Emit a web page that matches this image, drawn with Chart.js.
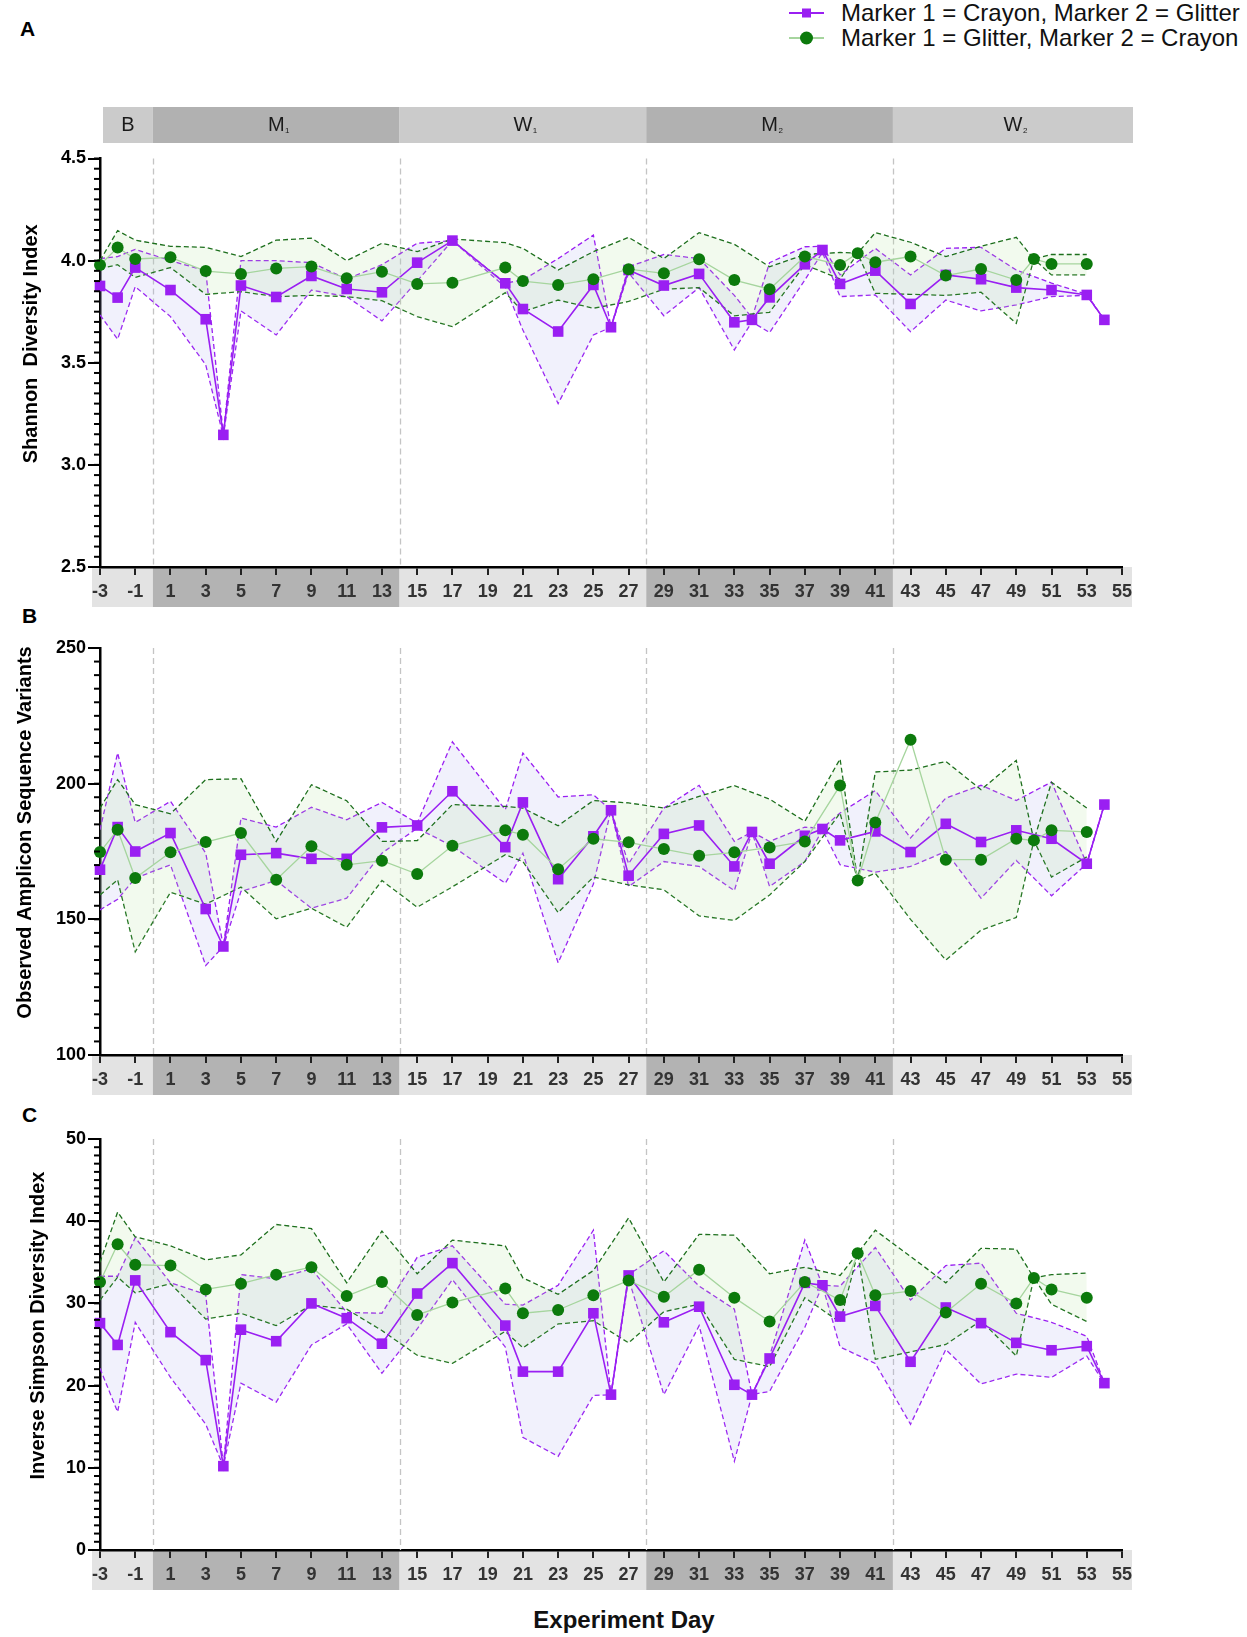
<!DOCTYPE html>
<html>
<head>
<meta charset="utf-8">
<script src="https://cdn.jsdelivr.net/npm/chart.js@4.4.0/dist/chart.umd.min.js"></script>
<style>
  body { margin: 0; background: #fff; width: 1247px; height: 1637px; position: relative; overflow: hidden;
         font-family: "Liberation Sans", Arial, sans-serif; }
  canvas { position: absolute; left: 0; }
  .panel { position: absolute; font-weight: bold; font-size: 21px; line-height: 21px; color: #000; }
  .leg { position: absolute; left: 841px; font-size: 24px; line-height: 26px; color: #111; white-space: nowrap; }
  .sym { position: absolute; left: 788px; }
  .xlab { position: absolute; left: 424px; width: 400px; text-align: center; top: 1606px;
          font-weight: bold; font-size: 24px; line-height: 28px; color: #111; }
</style>
</head>
<body>
<div class="panel" style="left:20px;top:18px">A</div>
<div class="panel" style="left:22px;top:605px">B</div>
<div class="panel" style="left:22px;top:1104px">C</div>

<svg class="sym" style="top:2px" width="38" height="22"><line x1="1" y1="11" x2="36" y2="11" stroke="#9a1ff2" stroke-width="1.8"/><rect x="14" y="6.5" width="9" height="9" fill="#9a1ff2"/></svg>
<div class="leg" style="top:0px">Marker 1 = Crayon, Marker 2 = Glitter</div>
<svg class="sym" style="top:27px" width="38" height="22"><line x1="1" y1="11" x2="36" y2="11" stroke="#a6d59e" stroke-width="1.8"/><circle cx="18.5" cy="11" r="6.5" fill="#0c7a0c"/></svg>
<div class="leg" style="top:25px">Marker 1 = Glitter, Marker 2 = Crayon</div>

<canvas id="cA" width="1247" height="520" style="top:95px"></canvas>
<canvas id="cB" width="1247" height="500" style="top:600px"></canvas>
<canvas id="cC" width="1247" height="510" style="top:1090px"></canvas>
<div class="xlab">Experiment Day</div>

<script>
// sampling days
const purpleDays = [-3, -2, -1, 1, 3, 4, 5, 7, 9, 11, 13, 15, 17, 20, 21, 23, 25, 26, 27, 29, 31, 33, 34, 35, 37, 38, 39, 41, 43, 45, 47, 49, 51, 53, 54];
const greenDays = [-3, -2, -1, 1, 3, 5, 7, 9, 11, 13, 15, 17, 20, 21, 23, 25, 27, 29, 31, 33, 35, 37, 39, 40, 41, 43, 45, 47, 49, 50, 51, 53];
const xTicks = [-3, -1, 1, 3, 5, 7, 9, 11, 13, 15, 17, 19, 21, 23, 25, 27, 29, 31, 33, 35, 37, 39, 41, 43, 45, 47, 49, 51, 53, 55];

// study phases
const phaseNames = ['B', 'M', 'W', 'M', 'W'];
const phaseSubs = ['', '1', '1', '2', '2'];
const phaseStart = [-3, 0, 14, 28, 42];
const phaseEnd = [0, 14, 28, 42, 55];
const phaseDark = [false, true, false, true, false];

// A: Shannon
const shannonPurple = [3.876, 3.819, 3.966, 3.856, 3.713, 3.147, 3.878, 3.822, 3.925, 3.861, 3.845, 3.99, 4.098, 3.889, 3.763, 3.653, 3.881, 3.674, 3.954, 3.878, 3.935, 3.698, 3.71, 3.82, 3.982, 4.052, 3.886, 3.951, 3.788, 3.93, 3.909, 3.868, 3.856, 3.832, 3.71];
const shannonPurpleHi = [4.01, 4.02, 4.055, 4.0, 3.95, 3.15, 4.0, 4.0, 3.99, 3.91, 3.98, 4.085, 4.098, 3.89, 3.905, 4.01, 4.125, 3.674, 3.97, 4.03, 4.01, 3.83, 3.72, 3.99, 4.068, 4.07, 3.93, 4.06, 3.93, 4.06, 4.065, 3.954, 3.89, 3.835, 3.71];
const shannonPurpleLo = [3.734, 3.615, 3.873, 3.726, 3.49, 3.14, 3.754, 3.636, 3.856, 3.824, 3.705, 3.90, 4.098, 3.87, 3.66, 3.30, 3.636, 3.674, 3.94, 3.73, 3.868, 3.563, 3.70, 3.648, 3.905, 4.04, 3.824, 3.832, 3.652, 3.807, 3.754, 3.783, 3.824, 3.83, 3.71];
const shannonGreen = [3.979, 4.064, 4.008, 4.016, 3.949, 3.935, 3.962, 3.971, 3.914, 3.946, 3.886, 3.892, 3.966, 3.90, 3.881, 3.909, 3.958, 3.938, 4.007, 3.905, 3.86, 4.02, 3.979, 4.036, 3.992, 4.02, 3.927, 3.959, 3.905, 4.008, 3.984, 3.984];
const shannonGreenHi = [4.0, 4.147, 4.10, 4.07, 4.065, 4.02, 4.10, 4.11, 4.0, 4.085, 4.044, 4.106, 4.088, 4.06, 3.954, 4.044, 4.114, 4.01, 4.137, 4.08, 3.97, 4.03, 4.04, 4.036, 4.137, 4.09, 4.02, 4.07, 4.114, 4.008, 4.03, 4.03];
const shannonGreenLo = [3.96, 3.98, 3.918, 3.966, 3.835, 3.848, 3.824, 3.83, 3.824, 3.804, 3.726, 3.677, 3.843, 3.75, 3.807, 3.767, 3.80, 3.86, 3.868, 3.73, 3.747, 3.98, 3.91, 4.036, 3.84, 3.835, 3.83, 3.845, 3.693, 4.008, 3.93, 3.93];

// B: observed ASVs
const asvPurple = [168.3, 184.0, 175.0, 181.8, 153.8, 140, 173.8, 174.4, 172.3, 172.3, 183.9, 184.6, 197.2, 176.6, 193.1, 164.8, 180.6, 190.2, 166.1, 181.5, 184.6, 169.5, 182.2, 170.5, 180.8, 183.3, 179.1, 182.4, 174.8, 185.2, 178.5, 182.8, 179.7, 170.5, 192.3];
const asvPurpleHi = [183, 211.3, 185.7, 193.5, 174.4, 140, 187.3, 184, 191.3, 186.7, 193.1, 185.5, 215.4, 190.4, 211.3, 195.1, 195.9, 190.2, 170.5, 191, 199.4, 178.7, 182.2, 178.7, 184, 183.5, 189.2, 197.5, 180, 194.7, 199.4, 193.8, 200.6, 170.5, 192.3];
const asvPurpleLo = [153.5, 157.4, 165.2, 170.1, 133, 140, 160.3, 164.3, 154.1, 157.8, 174.4, 183.6, 177, 163.3, 174.4, 134, 163, 190.2, 162.1, 171.3, 169.5, 160.6, 182.2, 162.1, 171.3, 183, 170.1, 167.4, 169.5, 175, 157.8, 171.7, 158.7, 170.5, 192.3];
const asvGreen = [174.8, 183.0, 165.2, 174.7, 178.5, 181.8, 164.6, 176.9, 170.1, 171.6, 166.7, 177.1, 182.8, 181.2, 168.5, 179.7, 178.4, 175.9, 173.4, 174.7, 176.5, 178.7, 199.3, 164.3, 185.7, 216.2, 172, 172, 179.7, 179.1, 182.8, 182.2];
const asvGreenHi = [191, 201.5, 192.3, 188.9, 201.5, 201.8, 178.7, 199.6, 193.7, 178.7, 179, 192.3, 191.6, 191, 184.5, 193.8, 192.9, 191, 195.3, 199.3, 194.3, 186.1, 209.1, 164.3, 204.3, 205, 208.2, 197.8, 208.6, 179.1, 200.5, 191];
const asvGreenLo = [159, 164.6, 138, 160, 155.6, 161.9, 150.2, 154.1, 147.1, 164.3, 154.5, 162, 173.8, 171.3, 152.5, 165.6, 162.7, 160.9, 151.3, 149.6, 159, 171.3, 189.2, 164.3, 167, 150, 135, 146, 150.7, 179.1, 165.6, 173];

// C: inverse Simpson
const simpsonPurple = [27.6, 24.95, 32.8, 26.5, 23.1, 10.2, 26.8, 25.4, 30.0, 28.2, 25.1, 31.2, 34.9, 27.3, 21.7, 21.7, 28.8, 18.9, 33.4, 27.7, 29.6, 20.1, 18.9, 23.3, 32.5, 32.2, 28.4, 29.7, 22.9, 29.5, 27.6, 25.2, 24.3, 24.8, 20.3];
const simpsonPurpleHi = [33.3, 33.3, 38.0, 32.5, 31.1, 10.2, 33.5, 33.0, 34.2, 28.9, 28.8, 35.6, 37.0, 29.9, 29.8, 32.2, 38.9, 18.9, 33.5, 36.4, 32.1, 29.3, 18.9, 23.6, 37.7, 32.2, 32.1, 36.8, 30.4, 34.6, 34.9, 28.8, 27.7, 26.0, 20.3];
const simpsonPurpleLo = [22.1, 16.8, 27.7, 21.0, 15.3, 10.2, 20.3, 18.0, 24.95, 27.5, 21.5, 26.9, 32.9, 24.7, 13.7, 11.4, 18.8, 18.9, 33.0, 18.9, 27.3, 10.8, 18.9, 19.3, 27.1, 32.2, 24.7, 22.7, 15.3, 24.4, 20.2, 21.4, 21.0, 23.6, 20.3];
const simpsonGreen = [32.6, 37.2, 34.7, 34.6, 31.7, 32.4, 33.5, 34.4, 30.9, 32.6, 28.6, 30.1, 31.8, 28.8, 29.2, 31.0, 32.8, 30.8, 34.1, 30.7, 27.8, 32.6, 30.4, 36.1, 31.0, 31.5, 28.9, 32.4, 30.0, 33.1, 31.7, 30.7];
const simpsonGreenHi = [35.0, 41.1, 38.1, 37.0, 35.3, 35.9, 39.6, 39.1, 32.5, 38.8, 33.6, 37.7, 37.0, 33.1, 31.1, 34.0, 40.4, 32.6, 38.4, 38.3, 33.6, 34.4, 33.4, 36.1, 38.9, 35.7, 32.5, 36.7, 36.6, 33.1, 33.5, 33.7];
const simpsonGreenLo = [30.4, 33.2, 31.3, 32.4, 28.1, 28.8, 27.3, 29.8, 29.3, 26.7, 23.7, 22.7, 26.6, 24.6, 27.5, 27.9, 25.2, 29.0, 29.9, 23.2, 22.3, 30.7, 27.7, 36.1, 23.2, 24.1, 25.0, 27.9, 23.6, 33.1, 29.9, 27.8];

const FONT = '"Liberation Sans", Arial, sans-serif';
const PURPLE = '#9a1ff2';
const GREEN_DOT = '#0c7a0c';
const GREEN_LINE = '#a6d59e';
const GREEN_DASH = '#1d6f1d';
Chart.defaults.font.family = FONT;

function pts(days, vals) {
  return days.map((d, i) => ({x: d, y: vals[i]}));
}

// band under the x axis, phase bar, dashed phase lines, minor ticks, y title
const decor = {
  id: 'decor',
  beforeDraw(chart, args, o) {
    const {ctx, chartArea: a} = chart;
    const x = chart.scales.x;
    ctx.save();
    for (let i = 0; i < phaseNames.length; i++) {
      let x0 = x.getPixelForValue(phaseStart[i]);
      let x1 = x.getPixelForValue(phaseEnd[i]);
      if (i === 0) x0 -= 8;
      if (i === phaseNames.length - 1) x1 += 10;
      ctx.fillStyle = phaseDark[i] ? '#b3b3b3' : '#e3e3e3';
      ctx.fillRect(x0, a.bottom, x1 - x0, 40);
    }
    if (o.phaseBar) {
      const top = 12, h = 36;
      for (let i = 0; i < phaseNames.length; i++) {
        let x0 = x.getPixelForValue(phaseStart[i]);
        let x1 = x.getPixelForValue(phaseEnd[i]);
        if (i === 0) x0 += 3;
        if (i === phaseNames.length - 1) x1 += 11;
        ctx.fillStyle = phaseDark[i] ? '#b1b1b1' : '#cbcbcb';
        ctx.fillRect(x0, top, x1 - x0, h);
        const cx = (x0 + x1) / 2, cy = top + h / 2;
        ctx.fillStyle = '#1a1a1a';
        ctx.font = '20px ' + FONT;
        ctx.textAlign = 'center';
        ctx.textBaseline = 'middle';
        ctx.fillText(phaseNames[i], cx, cy);
        if (phaseSubs[i]) {
          const w = ctx.measureText(phaseNames[i]).width;
          ctx.font = '8px ' + FONT;
          ctx.textAlign = 'left';
          ctx.fillText(phaseSubs[i], cx + w / 2 + 0.5, cy + 6);
        }
      }
    }
    ctx.restore();
  },
  beforeDatasetsDraw(chart) {
    const {ctx, chartArea: a} = chart;
    const x = chart.scales.x;
    ctx.save();
    ctx.strokeStyle = '#c4c4c4';
    ctx.lineWidth = 1.3;
    ctx.setLineDash([6, 4]);
    for (let i = 1; i < phaseStart.length; i++) {
      const px = Math.round(x.getPixelForValue(phaseStart[i])) + 0.5;
      ctx.beginPath();
      ctx.moveTo(px, a.top);
      ctx.lineTo(px, a.bottom);
      ctx.stroke();
    }
    ctx.restore();
  },
  afterDraw(chart, args, o) {
    const {ctx, chartArea: a} = chart;
    const y = chart.scales.y;
    ctx.save();
    ctx.strokeStyle = '#000';
    ctx.lineWidth = 2;
    const n = Math.round((y.max - y.min) / o.minor);
    for (let i = 0; i <= n; i++) {
      const py = y.getPixelForValue(y.min + i * o.minor);
      ctx.beginPath();
      ctx.moveTo(a.left - 6, py);
      ctx.lineTo(a.left, py);
      ctx.stroke();
    }
    ctx.translate(o.titleX, (a.top + a.bottom) / 2 - 19);
    ctx.rotate(-Math.PI / 2);
    ctx.fillStyle = '#000';
    ctx.font = 'bold 20px ' + FONT;
    ctx.textAlign = 'center';
    ctx.textBaseline = 'middle';
    ctx.fillText(o.title, 0, 0);
    ctx.restore();
  }
};

function makePanel(id, p) {
  const dash = {borderWidth: 1.3, borderDash: [5, 3], pointRadius: 0, tension: 0};
  const datasets = [
    {...dash, data: pts(purpleDays, p.pHi), borderColor: PURPLE, fill: '+1', backgroundColor: 'rgba(170,170,235,0.17)', order: 3},
    {...dash, data: pts(purpleDays, p.pLo), borderColor: PURPLE, fill: false, order: 3},
    {...dash, data: pts(greenDays, p.gHi), borderColor: GREEN_DASH, fill: '+1', backgroundColor: 'rgba(175,225,150,0.16)', order: 2},
    {...dash, data: pts(greenDays, p.gLo), borderColor: GREEN_DASH, fill: false, order: 2},
    {data: pts(purpleDays, p.pMean), borderColor: PURPLE, borderWidth: 1.6, pointStyle: 'rect', pointRadius: 7.5,
     pointBackgroundColor: PURPLE, pointBorderWidth: 0, fill: false, order: 1, clip: false},
    {data: pts(greenDays, p.gMean), borderColor: GREEN_LINE, borderWidth: 1.3, pointStyle: 'circle', pointRadius: 6,
     pointBackgroundColor: GREEN_DOT, pointBorderColor: GREEN_DOT, pointBorderWidth: 0, fill: false, order: 0, clip: false}
  ];
  new Chart(document.getElementById(id), {
    type: 'line',
    data: {datasets},
    options: {
      responsive: false,
      animation: false,
      events: [],
      layout: {padding: {top: p.padTop, right: 125, left: 0, bottom: 0}},
      plugins: {
        legend: {display: false},
        tooltip: {enabled: false},
        decor: {phaseBar: p.phaseBar, minor: p.minor, title: p.title, titleX: p.titleX}
      },
      scales: {
        x: {
          type: 'linear', min: -3, max: 55,
          afterBuildTicks: s => { s.ticks = xTicks.map(v => ({value: v})); },
          afterFit: s => { s.height = p.xH; },
          grid: {drawOnChartArea: false, drawTicks: true, tickLength: 8, color: '#222', lineWidth: 2},
          border: {display: true, color: '#000', width: 2.5},
          ticks: {autoSkip: false, maxRotation: 0, padding: 6, color: '#333',
                  font: {size: 18, weight: 'bold'}, callback: v => String(v)}
        },
        y: {
          min: p.yMin, max: p.yMax,
          afterFit: s => { s.width = 100; },
          grid: {drawOnChartArea: false, tickLength: 12, color: '#000', lineWidth: 2},
          border: {display: true, color: '#000', width: 2.5},
          ticks: {stepSize: p.major, padding: 2, color: '#000', font: {size: 18, weight: 'bold'},
                  callback: v => p.fmt(v)}
        }
      }
    },
    plugins: [decor]
  });
}

makePanel('cA', {
  pMean: shannonPurple, pHi: shannonPurpleHi, pLo: shannonPurpleLo,
  gMean: shannonGreen, gHi: shannonGreenHi, gLo: shannonGreenLo,
  yMin: 2.5, yMax: 4.5, major: 0.5, minor: 0.05, fmt: v => v.toFixed(1),
  padTop: 63.5, xH: 48, phaseBar: true, title: 'Shannon  Diversity Index', titleX: 31
});
makePanel('cB', {
  pMean: asvPurple, pHi: asvPurpleHi, pLo: asvPurpleLo,
  gMean: asvGreen, gHi: asvGreenHi, gLo: asvGreenLo,
  yMin: 100, yMax: 250, major: 50, minor: 5, fmt: v => String(v),
  padTop: 48, xH: 45, phaseBar: false, title: 'Observed Amplicon Sequence Variants', titleX: 25
});
makePanel('cC', {
  pMean: simpsonPurple, pHi: simpsonPurpleHi, pLo: simpsonPurpleLo,
  gMean: simpsonGreen, gHi: simpsonGreenHi, gLo: simpsonGreenLo,
  yMin: 0, yMax: 50, major: 10, minor: 1, fmt: v => String(v),
  padTop: 49, xH: 50, phaseBar: false, title: 'Inverse Simpson Diversity Index', titleX: 38
});
</script>
</body>
</html>
